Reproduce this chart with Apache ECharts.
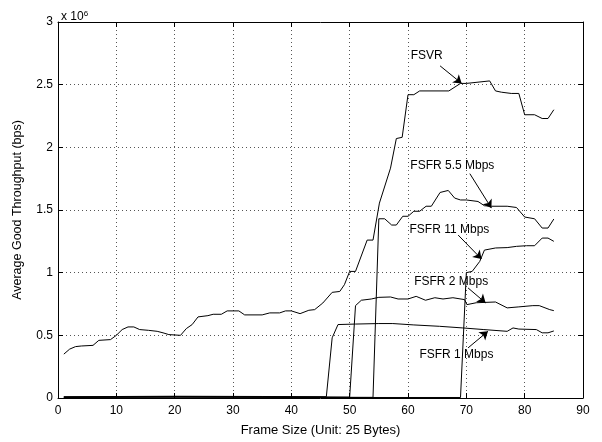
<!DOCTYPE html>
<html><head><meta charset="utf-8">
<script src="https://cdn.jsdelivr.net/npm/echarts@6/dist/echarts.min.js"></script>
<style>html,body{margin:0;padding:0;background:#fff}#c{width:602px;height:442px}</style>
</head><body><div id="c"></div>
<script>
// x = frame size (unit 25 bytes), y = average good throughput in units of 10^6 bps
var fsvr = [[1,0.35],[2,0.39],[3,0.41],[4,0.415],[6,0.42],[7,0.46],[9,0.466],[10,0.5],[11,0.546],[12,0.567],[13,0.567],[14,0.546],[15.5,0.54],[17,0.532],[18,0.52],[19,0.506],[21,0.5],[22,0.554],[23,0.586],[24,0.647],[25.7,0.657],[26.6,0.668],[28,0.668],[29,0.695],[31,0.695],[32,0.663],[35,0.663],[36.3,0.679],[38,0.679],[39,0.695],[40,0.695],[41.5,0.673],[43,0.7],[44,0.705],[45.4,0.758],[47,0.843],[48.3,0.85],[49.1,0.904],[50,1.01],[51,1.01],[53,1.26],[54,1.26],[55.1,1.555],[57,1.834],[58,2.07],[59,2.08],[60,2.42],[61,2.42],[62,2.45],[67,2.45],[69,2.51],[70,2.51],[72,2.52],[74,2.53],[75,2.45],[76,2.44],[77.7,2.43],[79,2.43],[80,2.26],[81.7,2.26],[83,2.23],[84,2.23],[85,2.3]];
var fsfr55 = [[1,0.006],[20,0.008],[40,0.006],[54,0.005],[55,1.43],[56,1.43],[57.2,1.38],[58,1.38],[59.1,1.45],[60,1.45],[61,1.49],[62,1.49],[63.1,1.53],[64,1.53],[65.5,1.64],[66.9,1.656],[68,1.595],[69,1.58],[70,1.58],[72,1.568],[73.1,1.534],[74.3,1.53],[77,1.53],[78.6,1.52],[80,1.444],[81.7,1.43],[83,1.356],[84,1.356],[85,1.428]];
var fsfr11 = [[1,0.004],[20,0.006],[45,0.004],[69,0.004],[70,1.0],[71,1.01],[72.3,1.09],[73.1,1.18],[75,1.197],[77,1.2],[78.6,1.21],[80.3,1.215],[81.7,1.215],[83,1.276],[84,1.276],[85,1.25]];
var fsfr2 = [[1,0.008],[20,0.012],[40,0.009],[50,0.007],[51,0.737],[52,0.78],[53.7,0.79],[55,0.803],[57,0.806],[58.3,0.79],[60,0.79],[61.4,0.811],[63,0.78],[64.6,0.8],[66,0.79],[67.7,0.8],[69.7,0.785],[70.1,0.745],[71.7,0.76],[75,0.766],[77,0.719],[79,0.727],[81.4,0.737],[82.5,0.737],[84.3,0.705],[85,0.697]];
var fsfr1 = [[1,0.01],[20,0.014],[35,0.012],[46,0.01],[47,0.48],[48,0.586],[51,0.59],[55,0.594],[57.4,0.594],[61,0.583],[65.4,0.572],[69.4,0.559],[73,0.546],[77,0.532],[78,0.559],[79,0.55],[82,0.546],[83,0.52],[84,0.52],[85,0.535]];

var seriesNames = ['FSVR','FSFR 5.5 Mbps','FSFR 11 Mbps','FSFR 2 Mbps','FSFR 1 Mbps'];
var seriesData = [fsvr, fsfr55, fsfr11, fsfr2, fsfr1];
// annotation text positions and arrows (data coordinates)
var labelPos = [[63.2,2.73],[67.6,1.85],[67.1,1.345],[67.4,0.926],[68.3,0.344]];
var arrowFrom = [[65.5,2.65],[70.6,1.79],[68.6,1.30],[70.3,0.878],[70.3,0.40]];
var arrowTo = [[69.2,2.51],[74.3,1.515],[72.6,1.109],[73.3,0.759],[73.7,0.532]];

var xTicks = {min:0,max:90,interval:10};
var yTicks = {min:0,max:3,interval:0.5};

var font = 'Liberation Sans, Arial, Helvetica, sans-serif';
var chart = echarts.init(document.getElementById('c'), null, {renderer:'canvas'});
var series = seriesData.map(function(d,i){
  return {
    name: seriesNames[i], type:'line', data:d, showSymbol:false, symbol:'none',
    lineStyle:{color:'#000',width:1}, animation:false, z:3,
    markLine:{
      silent:true, animation:false, symbol:['none','arrow'], symbolSize:8,
      itemStyle:{color:'#000'},
      lineStyle:{color:'#000',width:1,type:'solid'}, label:{show:false},
      data:[[{coord:arrowFrom[i]},{coord:arrowTo[i]}]]
    },
    markPoint:{
      silent:true, animation:false, symbol:'circle', symbolSize:0,
      label:{show:true, position:'inside', formatter:seriesNames[i], color:'#000', fontSize:12, fontFamily:font},
      data:[{coord:labelPos[i]}]
    }
  };
});

chart.setOption({
  animation:false,
  backgroundColor:'#fff',
  grid:{left:58,right:19,top:22,bottom:44,show:false},
  title:{
    text:'x 10{s|6}', left:56, top:5,
    textStyle:{fontSize:12,fontWeight:'normal',color:'#000',fontFamily:font,
      rich:{s:{fontSize:8,verticalAlign:'top',padding:[0,0,6,0],fontFamily:font,color:'#000'}}}
  },
  xAxis:[{
    type:'value', min:xTicks.min, max:xTicks.max, interval:xTicks.interval,
    name:'Frame Size (Unit: 25 Bytes)', nameLocation:'middle', nameGap:26,
    nameTextStyle:{fontSize:13,color:'#000',fontFamily:font},
    axisLine:{show:true,onZero:false,lineStyle:{color:'#000',width:1}},
    axisTick:{show:true,inside:true,length:5,lineStyle:{color:'#000'}},
    axisLabel:{fontSize:12,color:'#000',fontFamily:font,margin:7},
    splitLine:{show:true,lineStyle:{color:'#555',type:[1,3],width:1}}
  },{
    type:'value', position:'top', min:xTicks.min, max:xTicks.max, interval:xTicks.interval,
    axisLine:{show:true,onZero:false,lineStyle:{color:'#000',width:1}},
    axisTick:{show:true,inside:true,length:5,lineStyle:{color:'#000'}},
    axisLabel:{show:false}, splitLine:{show:false}
  }],
  yAxis:[{
    type:'value', min:yTicks.min, max:yTicks.max, interval:yTicks.interval,
    name:'Average Good Throughput (bps)', nameLocation:'middle', nameGap:34,
    nameTextStyle:{fontSize:12.5,color:'#000',fontFamily:font},
    axisLine:{show:true,onZero:false,lineStyle:{color:'#000',width:1}},
    axisTick:{show:true,inside:true,length:5,lineStyle:{color:'#000'}},
    axisLabel:{fontSize:12,color:'#000',fontFamily:font,margin:5},
    splitLine:{show:true,lineStyle:{color:'#555',type:[1,3],width:1}}
  },{
    type:'value', position:'right', min:yTicks.min, max:yTicks.max, interval:yTicks.interval,
    axisLine:{show:true,onZero:false,lineStyle:{color:'#000',width:1}},
    axisTick:{show:true,inside:true,length:5,lineStyle:{color:'#000'}},
    axisLabel:{show:false}, splitLine:{show:false}
  }],
  series:series
});
</script></body></html>
